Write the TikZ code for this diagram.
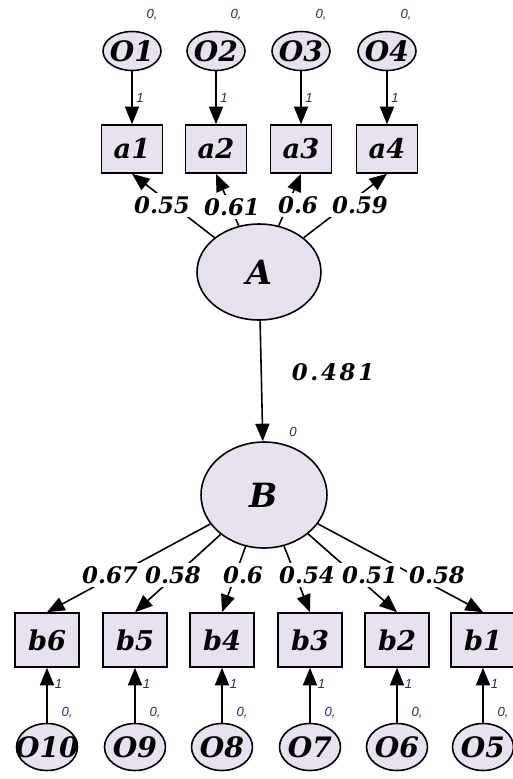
\documentclass[tikz,border=0pt]{standalone}
\usepackage{fontspec}
\usepackage{tikz}
\usetikzlibrary{arrows.meta,shapes.geometric}
\newfontfamily\semfont{DejaVu Serif}
\newfontfamily\smallfont{Liberation Sans}
\definecolor{latfill}{RGB}{232,226,240}
\definecolor{varblue}{RGB}{35,45,100}
\tikzset{
  obs/.style={shape=rectangle, draw=black, line width=0.9pt, fill=latfill, inner sep=0pt,
    minimum width=1.22cm, minimum height=0.96cm, font=\semfont\bfseries\itshape\fontsize{15.5}{17}\selectfont},
  obsb/.style={obs, minimum width=1.28cm, minimum height=1.08cm},
  err/.style={shape=ellipse, draw=black, line width=0.9pt, fill=latfill, inner xsep=-8pt, inner ysep=0pt,
    minimum width=1.16cm, minimum height=0.78cm, font=\semfont\bfseries\itshape\fontsize{16}{18}\selectfont},
  errb/.style={err, minimum width=1.22cm, minimum height=0.94cm},
  lat/.style={shape=ellipse, draw=black, line width=0.9pt, fill=latfill, inner sep=0pt,
    font=\semfont\bfseries\itshape\fontsize{19}{21}\selectfont},
  coef/.style={fill=white, inner xsep=1pt, inner ysep=2pt, font=\semfont\bfseries\itshape\fontsize{13}{14}\selectfont},
  var/.style={inner sep=0pt, text=varblue, font=\smallfont\itshape\fontsize{7.5}{8}\selectfont},
  one/.style={inner sep=2pt, text=varblue, font=\smallfont\itshape\fontsize{7.5}{8}\selectfont},
  arr/.style={-{Triangle[length=10pt,width=8pt]}, line width=0.9pt, draw=black}
}
\begin{document}
\begin{tikzpicture}[x=0.02cm, y=-0.02cm]
\useasboundingbox (0,0) rectangle (512,779);
% factor A and its indicators
\node[err](o1) at (132,51) {O1};
\node[err](o2) at (216,51) {O2};
\node[err](o3) at (301,51) {O3};
\node[err](o4) at (387,51) {O4};
\node[obs](a1) at (132,149) {a1};
\node[obs](a2) at (216,149) {a2};
\node[obs](a3) at (301,149) {a3};
\node[obs](a4) at (387,149) {a4};
\node[lat, minimum width=2.48cm, minimum height=1.92cm](A) at (259,272) {A};
% factor B and its indicators
\node[lat, minimum width=2.52cm, minimum height=2.12cm](B) at (264,495) {B};
\node[obsb](b6) at (47,640) {b6};
\node[obsb](b5) at (135,640) {b5};
\node[obsb](b4) at (222,640) {b4};
\node[obsb](b3) at (310,640) {b3};
\node[obsb](b2) at (397,640) {b2};
\node[obsb](b1) at (483,640) {b1};
\node[errb](o10) at (47,747) {O10};
\node[errb](o9) at (135,747) {O9};
\node[errb](o8) at (222,747) {O8};
\node[errb](o7) at (310,747) {O7};
\node[errb](o6) at (397,747) {O6};
\node[errb](o5) at (483,747) {O5};
% paths
\path[arr] (o1) edge node[one, right]{1} (a1);
\path[arr] (o2) edge node[one, right]{1} (a2);
\path[arr] (o3) edge node[one, right]{1} (a3);
\path[arr] (o4) edge node[one, right]{1} (a4);
\path[arr] (A) edge (a1.south);
\path[arr] (A) edge (a2.south);
\path[arr] (A) edge (a3.south);
\path[arr] (A) edge (a4.south);
\path[arr] (A) edge (B);
\path[arr] (B) edge (b6.north);
\path[arr] (B) edge (b5.north);
\path[arr] (B) edge (b4.north);
\path[arr] (B) edge (b3.north);
\path[arr] (B) edge (b2.north);
\path[arr] (B) edge (b1.north);
\path[arr] (o10) edge node[one, right, pos=0.7, xshift=2pt]{1} (b6);
\path[arr] (o9) edge node[one, right, pos=0.7, xshift=2pt]{1} (b5);
\path[arr] (o8) edge node[one, right, pos=0.7, xshift=2pt]{1} (b4);
\path[arr] (o7) edge node[one, right, pos=0.7, xshift=2pt]{1} (b3);
\path[arr] (o6) edge node[one, right, pos=0.7, xshift=2pt]{1} (b2);
\path[arr] (o5) edge node[one, right, pos=0.7, xshift=2pt]{1} (b1);
% loadings
\node[coef](la1) at (162,205) {0.55};
\node[coef](la2) at (232,207) {0.61};
\node[coef](la3) at (298,205) {0.6};
\node[coef](la4) at (360,205) {0.59};
\node[coef, fill=none, font=\semfont\bfseries\itshape\fontsize{13}{14}\selectfont\addfontfeature{LetterSpace=12}](lab) at (333,372) {0.481};
\node[coef](lb6) at (110,575) {0.67};
\node[coef](lb5) at (173,575) {0.58};
\node[coef](lb4) at (243,575) {0.6};
\node[coef](lb3) at (307,575) {0.54};
\node[coef](lb2) at (370,575) {0.51};
\node[coef](lb1) at (437,575) {0.58};
% variances
\node[var](v1) at (152,15) {0,};
\node[var](v2) at (236,15) {0,};
\node[var](v3) at (321,15) {0,};
\node[var](v4) at (406,15) {0,};
\node[var](vB) at (293,432) {0};
\node[var](v10) at (67,713) {0,};
\node[var](v9) at (155,713) {0,};
\node[var](v8) at (242,713) {0,};
\node[var](v7) at (330,713) {0,};
\node[var](v6) at (417,713) {0,};
\node[var](v5) at (503,713) {0,};
\end{tikzpicture}
\end{document}
